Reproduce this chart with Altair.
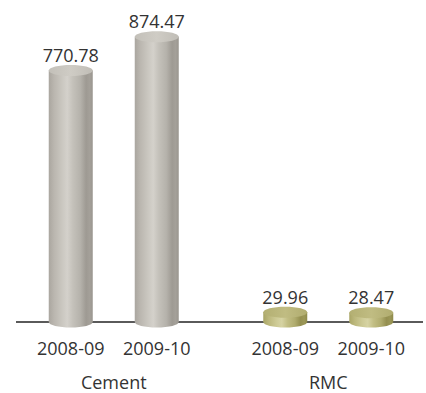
import altair as alt
import pandas as pd

groups = ["Cement", "Cement", "RMC", "RMC"]
years = ["2008-09", "2009-10", "2008-09", "2009-10"]
values = [770.78, 874.47, 29.96, 28.47]
group_names = ["Cement", "RMC"]

df = pd.DataFrame({"group": groups, "year": years, "value": values})
gdf = pd.DataFrame({"group": group_names})
base_df = pd.DataFrame({"v": [0]})

FONT = "Open Sans"
TXT = "#333333"
ELLIPSE = "M -1 0 A 1 0.25 0 1 0 1 0 A 1 0.25 0 1 0 -1 0 Z"
BAR_W = 44

x_enc = alt.X("group:N", axis=None,
              scale=alt.Scale(paddingInner=0.0886, paddingOuter=0))
xo_enc = alt.XOffset("year:N",
                     scale=alt.Scale(paddingInner=0.4884, paddingOuter=0.3808))
y_scale = alt.Scale(domain=[0, 950])


def grad(stops):
    return alt.LinearGradient(
        gradient="linear", x1=0, x2=1, y1=0, y2=0,
        stops=[alt.GradientStop(color=c, offset=o) for o, c in stops])


palettes = {
    "Cement": {
        "body": [(0, "#aaa69f"), (0.12, "#bab6af"), (0.3, "#cac7c0"), (0.42, "#d4d1cb"),
                 (0.55, "#c4c1ba"), (0.72, "#b5b2ab"), (0.85, "#9e9a93"), (0.93, "#a4a099"),
                 (1, "#9a968f")],
        "top": [(0, "#c3c0b9"), (0.5, "#cfccc5"), (1, "#c0bdb6")],
    },
    "RMC": {
        "body": [(0, "#a9a566"), (0.12, "#bbb77b"), (0.3, "#cdca95"), (0.42, "#d6d3a3"),
                 (0.55, "#c2be84"), (0.72, "#b0ac6e"), (0.85, "#948f50"), (0.93, "#9b9757"),
                 (1, "#8e8a4b")],
        "top": [(0, "#b3af72"), (0.5, "#c0bc82"), (1, "#b0ac6f")],
    },
}

rule = alt.Chart(base_df).mark_rule(color="#5a5a5a", strokeWidth=2).encode(
    x=alt.value(0), x2=alt.value(407), y=alt.Y("v:Q", scale=y_scale, axis=None))

layers = [rule]
for g in group_names:
    b = alt.Chart(df).transform_filter(alt.datum.group == g).transform_calculate(zero="0")
    pal = palettes[g]
    bottom = b.mark_point(shape=ELLIPSE, size=BAR_W ** 2, filled=True, opacity=1,
                          fill=grad(pal["body"]), strokeWidth=0).encode(
        x=x_enc, xOffset=xo_enc, y=alt.Y("zero:Q", scale=y_scale, axis=None))
    body = b.mark_bar(width=BAR_W, fill=grad(pal["body"]), strokeWidth=0).encode(
        x=x_enc, xOffset=xo_enc,
        y=alt.Y("value:Q", scale=y_scale, axis=None))
    top = b.mark_point(shape=ELLIPSE, size=BAR_W ** 2, filled=True, opacity=1,
                       fill=grad(pal["top"]), strokeWidth=0).encode(
        x=x_enc, xOffset=xo_enc, y=alt.Y("value:Q", scale=y_scale, axis=None))
    layers += [bottom, body, top]

value_labels = alt.Chart(df).mark_text(
    font=FONT, fontSize=18, color=TXT, baseline="alphabetic", dy=-8.5).encode(
    x=x_enc, xOffset=xo_enc, y=alt.Y("value:Q", scale=y_scale, axis=None),
    text=alt.Text("value:Q", format=".2f"))

year_labels = alt.Chart(df).transform_calculate(zero="0").mark_text(
    font=FONT, fontSize=18, color=TXT, baseline="alphabetic", dy=33).encode(
    x=x_enc, xOffset=xo_enc, y=alt.Y("zero:Q", scale=y_scale, axis=None), text="year:N")

group_labels = alt.Chart(gdf).transform_calculate(zero="0").mark_text(
    font=FONT, fontSize=18, color=TXT, baseline="alphabetic", dy=67).encode(
    x=x_enc, y=alt.Y("zero:Q", scale=y_scale, axis=None), text="group:N")

layers += [value_labels, year_labels, group_labels]

chart = alt.layer(*layers).properties(
    width=410, height=310,
    padding={"left": 16, "top": 12, "right": 0, "bottom": 71},
    autosize=alt.AutoSizeParams(type="none"),
).configure_view(stroke=None)

chart.save("out.html", embed_options={"renderer": "svg", "actions": False})
